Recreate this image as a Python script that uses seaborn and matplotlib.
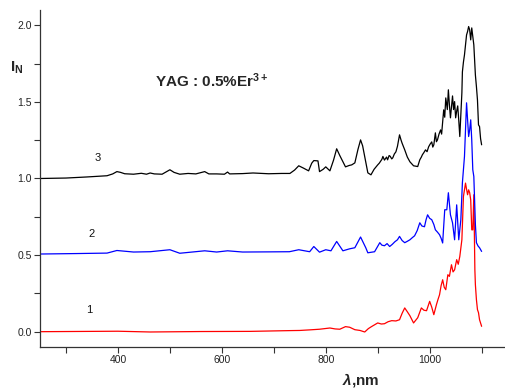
import matplotlib
matplotlib.use("Agg")
import matplotlib.pyplot as plt
import seaborn as sns
import pandas as pd
from matplotlib.ticker import MultipleLocator

# spectrum 3 (black), offset 1.0
wl_3 = [250, 300, 340, 379, 390, 398, 405, 413, 430, 445, 455, 462, 470, 485, 500, 508, 519, 535, 550,
        567, 575, 590, 605, 611, 615, 640, 660, 690, 715, 731, 740, 748, 757, 767, 773, 777, 785, 788,
        795, 800, 808, 815, 821, 827, 833, 838, 845, 850, 856, 862, 867, 871, 875, 881, 887, 893, 900,
        903, 905, 908, 910, 913, 915, 917, 919, 922, 924, 927, 929, 932, 935, 938, 942, 945, 947, 950,
        952, 957, 962, 969, 977, 981, 984, 986, 989, 992, 995, 998, 1001, 1004, 1006, 1008, 1011, 1013,
        1015, 1018, 1021, 1023, 1025, 1027, 1029, 1031, 1034, 1036, 1038, 1040, 1042, 1044, 1046, 1048,
        1050, 1052, 1054, 1056, 1058, 1060, 1062, 1063, 1065, 1067, 1069, 1071, 1073, 1075, 1077, 1079,
        1081, 1083, 1085, 1088, 1090, 1092, 1094, 1096, 1098, 1100]
int_3 = [1.000, 1.003, 1.010, 1.018, 1.030, 1.045, 1.040, 1.031, 1.028, 1.034, 1.028, 1.036, 1.030, 1.028,
         1.057, 1.040, 1.028, 1.033, 1.030, 1.045, 1.030, 1.030, 1.028, 1.042, 1.030, 1.032, 1.036, 1.031,
         1.033, 1.033, 1.055, 1.083, 1.068, 1.050, 1.100, 1.117, 1.115, 1.045, 1.060, 1.076, 1.050, 1.120,
         1.194, 1.150, 1.109, 1.076, 1.085, 1.089, 1.102, 1.190, 1.252, 1.213, 1.142, 1.037, 1.024, 1.060,
         1.089, 1.100, 1.110, 1.125, 1.144, 1.120, 1.130, 1.140, 1.122, 1.150, 1.145, 1.128, 1.135, 1.160,
         1.174, 1.210, 1.285, 1.250, 1.230, 1.205, 1.187, 1.140, 1.109, 1.083, 1.078, 1.122, 1.140, 1.155,
         1.170, 1.187, 1.175, 1.207, 1.225, 1.239, 1.205, 1.220, 1.298, 1.240, 1.252, 1.290, 1.317, 1.290,
         1.370, 1.448, 1.400, 1.526, 1.450, 1.579, 1.480, 1.396, 1.470, 1.539, 1.450, 1.502, 1.396, 1.440,
         1.474, 1.380, 1.274, 1.420, 1.559, 1.696, 1.760, 1.807, 1.870, 1.937, 1.960, 1.992, 1.970, 1.905,
         1.983, 1.930, 1.872, 1.676, 1.600, 1.513, 1.350, 1.339, 1.260, 1.220]

# spectrum 2 (blue), offset 0.5
wl_2 = [250, 320, 379, 398, 430, 462, 500, 519, 567, 590, 611, 640, 690, 730, 748, 769, 777, 788, 800,
        810, 821, 833, 846, 856, 867, 877, 881, 894, 904, 908, 913, 918, 923, 928, 933, 938, 942, 947,
        952, 957, 962, 967, 971, 976, 981, 985, 990, 993, 996, 1000, 1004, 1008, 1011, 1015, 1019, 1022,
        1025, 1029, 1033, 1036, 1040, 1044, 1048, 1052, 1056, 1060, 1063, 1067, 1071, 1073, 1075, 1077,
        1079, 1081, 1083, 1085, 1088, 1090, 1093, 1096, 1100]
int_2 = [0.507, 0.510, 0.513, 0.530, 0.520, 0.522, 0.535, 0.512, 0.528, 0.520, 0.528, 0.520, 0.521, 0.522,
         0.535, 0.522, 0.556, 0.519, 0.535, 0.528, 0.589, 0.528, 0.541, 0.548, 0.618, 0.548, 0.515, 0.522,
         0.581, 0.565, 0.561, 0.575, 0.556, 0.570, 0.587, 0.600, 0.622, 0.595, 0.581, 0.590, 0.600, 0.615,
         0.626, 0.660, 0.711, 0.690, 0.685, 0.730, 0.763, 0.740, 0.731, 0.700, 0.665, 0.650, 0.633, 0.610,
         0.579, 0.796, 0.796, 0.907, 0.763, 0.711, 0.600, 0.828, 0.600, 0.731, 0.972, 1.144, 1.494, 1.383,
         1.274, 1.317, 1.383, 1.252, 1.057, 1.013, 0.700, 0.581, 0.560, 0.548, 0.524]

# spectrum 1 (red), no offset
wl_1 = [250, 400, 462, 560, 654, 731, 750, 770, 788, 808, 818, 827, 838, 846, 856, 866, 875, 882, 888,
        894, 900, 907, 913, 920, 927, 935, 942, 947, 952, 957, 962, 969, 977, 984, 989, 994, 1000, 1004,
        1008, 1013, 1016, 1019, 1022, 1025, 1028, 1031, 1035, 1038, 1040, 1042, 1045, 1048, 1052, 1055,
        1058, 1062, 1065, 1067, 1069, 1071, 1073, 1075, 1077, 1079, 1081, 1083, 1085, 1087, 1088, 1090,
        1092, 1094, 1096, 1100]
int_1 = [0.000, 0.003, -0.002, 0.001, 0.002, 0.007, 0.008, 0.012, 0.016, 0.024, 0.018, 0.016, 0.033, 0.029,
         0.013, 0.008, -0.002, 0.020, 0.033, 0.045, 0.057, 0.050, 0.052, 0.065, 0.072, 0.070, 0.078, 0.120,
         0.155, 0.130, 0.104, 0.057, 0.091, 0.155, 0.140, 0.137, 0.198, 0.160, 0.111, 0.176, 0.210, 0.241,
         0.300, 0.339, 0.290, 0.274, 0.372, 0.361, 0.400, 0.437, 0.390, 0.404, 0.470, 0.440, 0.491, 0.600,
         0.883, 0.926, 0.970, 0.930, 0.894, 0.926, 0.907, 0.861, 0.665, 0.665, 0.894, 0.404, 0.307, 0.209,
         0.144, 0.124, 0.078, 0.035]

curve_names = ["1", "2", "3"]
curve_colors = ["#ff0000", "#0000ff", "#000000"]

df = pd.concat([
    pd.DataFrame({"wl": wl_1, "I": int_1, "curve": "1"}),
    pd.DataFrame({"wl": wl_2, "I": int_2, "curve": "2"}),
    pd.DataFrame({"wl": wl_3, "I": int_3, "curve": "3"}),
], ignore_index=True)

sns.set_style("ticks")
plt.rcParams["font.family"] = ["Liberation Sans", "DejaVu Sans"]
plt.rcParams["mathtext.fontset"] = "custom"
plt.rcParams["mathtext.rm"] = "Liberation Sans"
plt.rcParams["mathtext.bf"] = "Liberation Sans:bold"
plt.rcParams["mathtext.it"] = "Liberation Sans:italic"
plt.rcParams["mathtext.bfit"] = "Liberation Sans:italic:bold"

fig = plt.figure(figsize=(5.05, 3.9), dpi=100)
ax = fig.add_axes([40 / 505, 1 - 347 / 390, 1 - 40 / 505, 337 / 390])

sns.lineplot(data=df, x="wl", y="I", hue="curve", hue_order=curve_names,
             palette=curve_colors, estimator=None, sort=False, linewidth=0.9,
             legend=False, ax=ax)

ax.set_xlim(250, 1145)
ax.set_ylim(-0.1, 2.1)
ax.xaxis.set_major_locator(MultipleLocator(200))
ax.xaxis.set_minor_locator(MultipleLocator(100))
ax.yaxis.set_major_locator(MultipleLocator(0.5))
ax.yaxis.set_minor_locator(MultipleLocator(0.25))
ax.tick_params(which="both", direction="out", length=4, width=0.8, color="#333333",
               labelsize=7.5, labelcolor="#222222", pad=2)
for side in ["top", "right"]:
    ax.spines[side].set_visible(False)
for side in ["left", "bottom"]:
    ax.spines[side].set_color("#333333")
    ax.spines[side].set_linewidth(0.9)

ax.set_xlabel("")
ax.set_ylabel("")
ax.text(0.69, -0.098, r"$\mathbfit{\lambda}$,nm", transform=ax.transAxes, ha="center", va="center",
        fontsize=11, fontweight="bold")
fig.text(10 / 505, 1 - 72 / 390, r"I$_{\mathbf{N}}$", fontsize=11, fontweight="bold",
         ha="left", va="baseline")

ax.text(471, 1.64, r"YAG : 0.5%Er$^{\mathbf{3+}}$", fontsize=11, fontweight="bold",
        ha="left", va="center")

label_pos = {"1": (344, 0.143), "2": (350, 0.64), "3": (361, 1.135)}
for name in curve_names:
    x, y = label_pos[name]
    ax.text(x, y, name, fontsize=8, ha="center", va="center", color="#111111")

fig.savefig("out.png", dpi=100)
